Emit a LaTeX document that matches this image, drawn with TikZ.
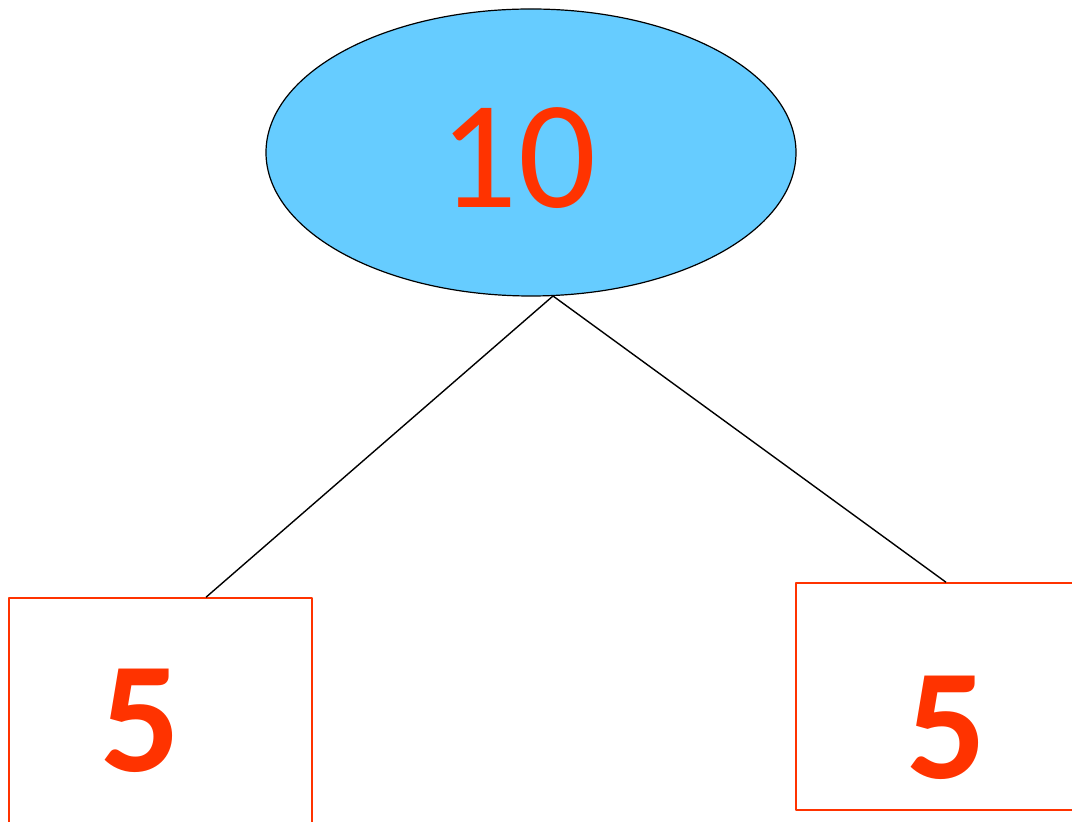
\documentclass[tikz,border=0pt]{standalone}
\usepackage{fontspec}
\setmainfont{Carlito}
\usetikzlibrary{shapes.geometric,calc}
\definecolor{skyfill}{HTML}{66CCFF}
\definecolor{numred}{HTML}{FF3300}
\tikzset{
  rootnode/.style={ellipse,draw=black,line width=1.2pt,fill=skyfill,minimum width=530pt,minimum height=287pt,inner sep=0pt},
  leafbox/.style={rectangle,draw=numred,line width=1.5pt,inner sep=0pt},
  bignum/.style={text=numred,font=\fontsize{154}{154}\selectfont,inner sep=0pt},
  boldnum/.style={text=numred,font=\fontsize{158}{158}\selectfont\bfseries,inner sep=0pt}
}
\begin{document}
\begin{tikzpicture}[x=1pt,y=1pt,line join=round]
				\useasboundingbox (0,0) rectangle (1072,822);
				\clip (0,0) rectangle (1072,822);
				% root
				\node[rootnode] (root) at (531,669.5) {};
				\node[bignum,anchor=base] (ten) at (518,614) {10};
				% leaves
				\node[leafbox,minimum width=303pt,minimum height=250pt] (lbox) at (160.5,99) {};
				\node[leafbox,minimum width=300pt,minimum height=227pt] (rbox) at (946,125.5) {};
				\node[boldnum,anchor=base] (lfive) at (141,50) {5};
				\node[boldnum,anchor=base] (rfive) at (946.5,43) {5};
				% edges
				\coordinate (apex) at (553,526);
				\draw[line width=1.4pt] (apex) -- ([xshift=45.5pt]lbox.north);
				\draw[line width=1.4pt] (apex) -- (rbox.north);
			\end{tikzpicture}
\end{document}
